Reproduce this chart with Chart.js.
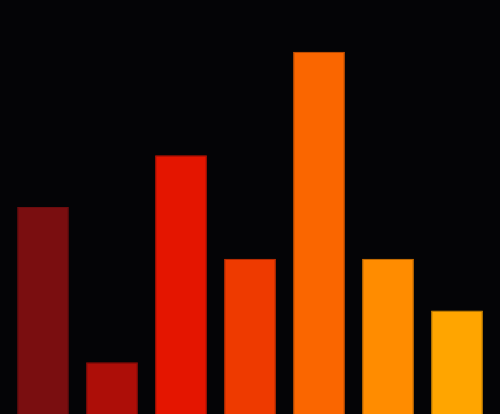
<!DOCTYPE html>
<html>
<head>
<meta charset="utf-8">
<script src="https://cdn.jsdelivr.net/npm/chart.js@4"></script>
<style>
    html, body { margin: 0; padding: 0; background: #040406; }
    #wrap { width: 500px; height: 414px; }
</style>
</head>
<body>
<div id="wrap"><canvas id="barChart"></canvas></div>
<script>
// values
const categories = ['A', 'B', 'C', 'D', 'E', 'F', 'G'];
const values = [4, 1, 5, 3, 7, 3, 2];
const barColors = ['#7a0e10', '#ad0e08', '#e41500', '#ee3a00', '#fa6600', '#ff8c00', '#ffa500'];
const edgeColors = ['#6a0c0e', '#980c07', '#c81300', '#d23300', '#dc5a00', '#e07b00', '#e09100'];

window.addEventListener('DOMContentLoaded', () => {
    const ctx = document.getElementById('barChart').getContext('2d');
    new Chart(ctx, {
        type: 'bar',
        data: {
            labels: categories,
            datasets: [{
                data: values,
                backgroundColor: barColors,
                borderColor: edgeColors,
                borderWidth: 1,
                barPercentage: 0.75,
                categoryPercentage: 1
            }]
        },
        options: {
            responsive: true,
            maintainAspectRatio: false,
            animation: false,
            layout: { padding: { left: 8.5, right: 8.5, top: 0, bottom: 0 } },
            plugins: {
                legend: { display: false },
                tooltip: { enabled: false }
            },
            scales: {
                x: { display: false },
                y: { display: false, min: 0, max: 8 }
            }
        }
    });
});
</script>
</body>
</html>
